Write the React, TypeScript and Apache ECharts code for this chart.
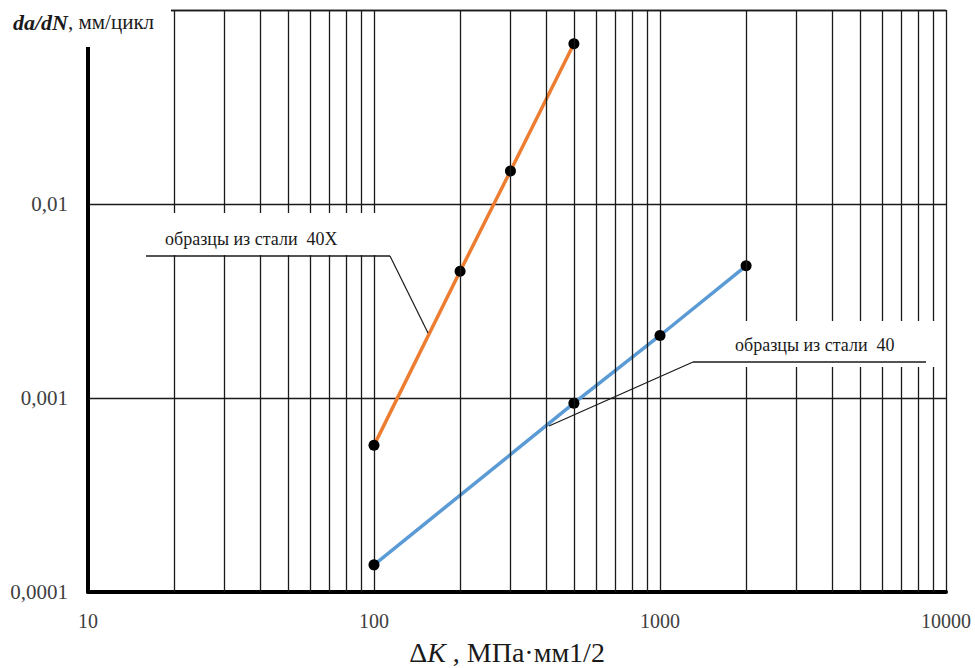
import React, { useEffect, useRef } from "react";
import * as echarts from "echarts";

// ΔK (МПа·мм1/2) and da/dN (мм/цикл)
const steel40X: [number, number][] = [
  [100, 0.00057],
  [200, 0.0045],
  [300, 0.0148],
  [500, 0.067],
];
const steel40: [number, number][] = [
  [100, 0.000138],
  [500, 0.00094],
  [1000, 0.0021],
  [2000, 0.0048],
];
const xMinorLines: number[] = [
  20, 30, 40, 50, 60, 70, 80, 90,
  200, 300, 400, 500, 600, 700, 800, 900,
  2000, 3000, 4000, 5000, 6000, 7000, 8000, 9000,
];
const label40X = "образцы из стали  40Х";
const label40 = "образцы из стали  40";

const SERIF = "Liberation Serif";
const INK = "#1a1a1a";

export default function App() {
  const ref = useRef<HTMLDivElement>(null);
  useEffect(() => {
    if (!ref.current) return;
    const chart = echarts.init(ref.current, undefined, { renderer: "svg" });
    const yFmt = (v: number) => {
      const e = Math.round(Math.log10(v));
      if (e >= -1) return "";
      return "0," + "0".repeat(-e - 1) + "1";
    };
    chart.setOption({
      animation: false,
      backgroundColor: "#fff",
      grid: { left: 88, right: 29, top: 10, bottom: 76 },
      xAxis: {
        type: "log",
        logBase: 10,
        min: 10,
        max: 10000,
        axisLine: { show: true, onZero: false, lineStyle: { color: "#000", width: 4 } },
        axisTick: { show: false },
        axisLabel: {
          margin: 19,
          color: "#404040",
          fontFamily: SERIF,
          fontSize: 20,
          formatter: (v: number) => String(Math.round(v)),
        },
        splitLine: { show: true, lineStyle: { color: INK, width: 1.3 } },
      },
      yAxis: {
        type: "log",
        logBase: 10,
        min: 0.0001,
        max: 0.1,
        axisLine: { show: true, lineStyle: { color: "#000", width: 4 } },
        axisTick: { show: false },
        axisLabel: {
          margin: 20,
          color: "#404040",
          fontFamily: SERIF,
          fontSize: 21,
          formatter: yFmt,
        },
        splitLine: { show: true, lineStyle: { color: INK, width: 1.3 } },
      },
      series: [
        {
          type: "line",
          data: [],
          z: 1,
          markLine: {
            silent: true,
            symbol: ["none", "none"],
            label: { show: false },
            lineStyle: { color: INK, width: 1.3, type: "solid" },
            emphasis: { disabled: true },
            data: xMinorLines.map((v) => ({ xAxis: v })),
          },
        },
        {
          type: "line",
          data: steel40X,
          z: 3,
          symbol: "circle",
          symbolSize: 11,
          itemStyle: { color: "#000" },
          lineStyle: { color: "#ED7D31", width: 3.5 },
        },
        {
          type: "line",
          data: steel40,
          z: 3,
          symbol: "circle",
          symbolSize: 11,
          itemStyle: { color: "#000" },
          lineStyle: { color: "#5B9BD5", width: 3.5 },
        },
      ],
      graphic: [
        { type: "rect", z: 100, shape: { x: 0, y: 0, width: 171, height: 47 }, style: { fill: "#fff" } },
        {
          type: "text",
          z: 101,
          x: 13,
          y: 22,
          style: {
            text: "{b|da/dN}{n|, мм/цикл}",
            verticalAlign: "middle",
            rich: {
              b: { fontFamily: SERIF, fontSize: 22, fontStyle: "italic", fontWeight: "bold", fill: INK },
              n: { fontFamily: SERIF, fontSize: 21, fill: INK },
            },
          },
        },
        {
          type: "text",
          z: 101,
          x: 507,
          y: 652,
          style: {
            text: "{d|Δ}{k|K}{n| , МПа·мм1/2}",
            align: "center",
            verticalAlign: "middle",
            rich: {
              d: { fontFamily: SERIF, fontSize: 28, fill: INK },
              k: { fontFamily: SERIF, fontSize: 28, fontStyle: "italic", fill: INK },
              n: { fontFamily: SERIF, fontSize: 28, fill: INK },
            },
          },
        },
        { type: "rect", z: 100, shape: { x: 146, y: 213, width: 244, height: 42 }, style: { fill: "#fff" } },
        {
          type: "text",
          z: 101,
          x: 165,
          y: 239,
          style: { text: label40X, fontFamily: SERIF, fontSize: 18, fill: INK, verticalAlign: "middle" },
        },
        { type: "line", z: 101, shape: { x1: 146, y1: 256, x2: 390, y2: 256 }, style: { stroke: INK, lineWidth: 1.3 } },
        { type: "line", z: 101, shape: { x1: 390, y1: 256, x2: 428, y2: 333 }, style: { stroke: INK, lineWidth: 1.2 } },
        { type: "rect", z: 100, shape: { x: 693, y: 321, width: 247, height: 46 }, style: { fill: "#fff" } },
        {
          type: "text",
          z: 101,
          x: 735,
          y: 345,
          style: { text: label40, fontFamily: SERIF, fontSize: 18, fill: INK, verticalAlign: "middle" },
        },
        { type: "line", z: 101, shape: { x1: 693, y1: 362, x2: 926, y2: 362 }, style: { stroke: INK, lineWidth: 1.3 } },
        { type: "line", z: 101, shape: { x1: 693, y1: 362, x2: 549, y2: 426 }, style: { stroke: INK, lineWidth: 1.2 } },
      ],
    });
    return () => chart.dispose();
  }, []);
  return (
    <div
      ref={ref}
      style={{ position: "fixed", left: 0, top: 0, width: 975, height: 668, background: "#fff" }}
    />
  );
}
